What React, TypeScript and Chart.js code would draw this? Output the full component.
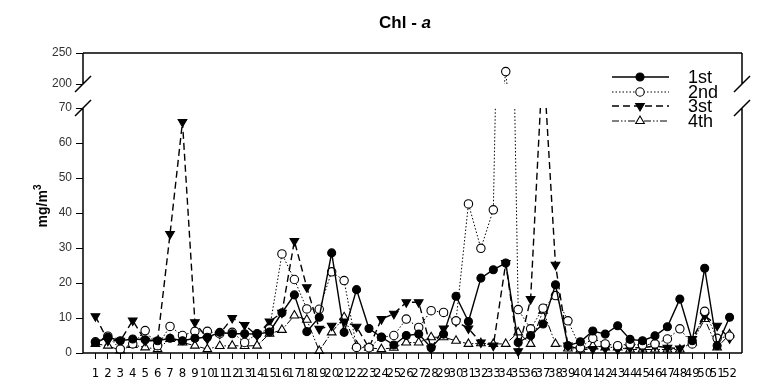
import React, { useEffect, useRef } from 'react';
import { Chart, registerables } from 'chart.js';

Chart.register(...registerables);

const categories = ['1','2','3','4','5','6','7','8','9','10','11','12','13','14','15','16','17','18','19','20','21','22','23','24','25','26','27','28','29','30','31','32','33','34','35','36','37','38','39','40','41','42','43','44','45','46','47','48','49','50','51','52'];

const seriesNames = ['1st', '2nd', '3st', '4th'];

const first = [3, 4.5, 3.5, 4, 3.8, 3.5, 4.2, 3.5, 4.2, 4.5, 5.9, 5.5, 5.5, 5.4, 6, 11.5, 16.6, 6.1, 10.2, 28.6, 5.9, 18.1, 7, 4.5, 2.3, 5, 5.4, 1.5, 5.4, 16.2, 9, 21.4, 23.8, 25.7, 3, 5, 8.3, 19.5, 2.1, 3.2, 6.3, 5.4, 7.8, 3.9, 3.5, 4.9, 7.5, 15.4, 3.5, 24.2, 2.1, 10.2];
const second = [3.2, 4.8, 1.1, 2.6, 6.4, 2.1, 7.6, 5, 6.2, 6.2, 5.5, 5.9, 3, 5.5, 6.9, 28.3, 21, 12.6, 12.5, 23.2, 20.7, 1.6, 1.5, 4.5, 5, 9.7, 7.3, 12.1, 11.6, 9.2, 42.6, 29.9, 40.9, 220, 12.4, 6.9, 12.8, 16.4, 9.2, 1.5, 4.2, 2.6, 2.1, 2.6, 2.3, 2.6, 4, 6.9, 2.6, 11.9, 4.2, 4.8];
const third = [10.5, 3.5, 3.5, 9.3, 3.5, 3.5, 34, 66, 8.8, 4, 5.5, 10, 8, 5, 9, 11.5, 32, 18.8, 6.9, 7.8, 9, 7.5, 1.5, 9.7, 11.2, 14.5, 14.5, 1.3, 7, 9, 7, 3, 2.1, 25.7, 0.5, 15.4, 85, 25.2, 2.1, 1, 1.1, 1.3, 1, 1.5, 1.5, 2, 1.5, 1.3, 4, 10.7, 7.8, 4.2];
const fourth = [2.6, 2.1, 0.7, 2.3, 1.6, 1.1, 4, 3, 2.1, 1.1, 2, 2.1, 2, 2.1, 5.5, 6.6, 10.7, 9.5, 0.6, 5.9, 10.2, 2.1, 1.5, 1.1, 1.5, 3, 3, 4.5, 4.5, 3.5, 2.6, 2.8, 2.6, 2.6, 5.9, 2.6, 12.1, 2.6, 1.3, 1, 2.1, 1.6, 1.6, 1, 1, 1, 1, 1, 3, 9.7, 1.6, 5.3];

const lowerTicks = [0, 10, 20, 30, 40, 50, 60, 70];
const upperTicks = [200, 250];
const lowerMax = 70;
const upperMin = 200;

type Style = {
  dash: number[];
  width: number;
  point: 'circle' | 'triangle';
  rotation: number;
  fill: string;
  radius: number;
};

const styles: Style[] = [
  { dash: [], width: 1.4, point: 'circle', rotation: 0, fill: '#000', radius: 4 },
  { dash: [1.5, 2], width: 1, point: 'circle', rotation: 0, fill: '#fff', radius: 4.2 },
  { dash: [7, 4], width: 1.4, point: 'triangle', rotation: 180, fill: '#000', radius: 5 },
  { dash: [7, 2, 1.5, 2, 1.5, 2], width: 1, point: 'triangle', rotation: 0, fill: '#fff', radius: 5 },
];

const allSeries = [first, second, third, fourth];

function buildDatasets() {
  const out: any[] = [];
  allSeries.forEach((vals, k) => {
    const st = styles[k];
    const pts = categories.map((c, i) => ({ x: i + 1, y: vals[i] }));
    ['yLow', 'yTop'].forEach((axis) => {
      out.push({
        label: seriesNames[k],
        part: axis,
        data: pts,
        yAxisID: axis,
        xAxisID: 'x',
        borderColor: '#000',
        borderWidth: st.width,
        borderDash: st.dash,
        backgroundColor: st.fill,
        pointStyle: st.point,
        pointRotation: st.rotation,
        pointRadius: st.radius,
        pointBorderWidth: 1.1,
        pointBorderColor: '#000',
        pointBackgroundColor: st.fill,
        tension: 0,
        fill: false,
        clip: false,
      });
    });
  });
  return out;
}

const clipPlugin = {
  id: 'segClip',
  beforeDatasetDraw(chart: any, args: any) {
    const ds = chart.data.datasets[args.index];
    const ctx = chart.ctx;
    let top: number;
    let bottom: number;
    if (ds.part === 'yTop') {
      top = 0;
      bottom = chart.scales.yTop.getPixelForValue(upperMin);
    } else {
      top = chart.scales.yLow.getPixelForValue(lowerMax);
      bottom = chart.height;
    }
    ctx.save();
    ctx.beginPath();
    ctx.rect(0, top, chart.width, bottom - top);
    ctx.clip();
  },
  afterDatasetDraw(chart: any) {
    chart.ctx.restore();
  },
};

function drawMarker(ctx: CanvasRenderingContext2D, st: Style, x: number, y: number) {
  ctx.save();
  ctx.setLineDash([]);
  ctx.lineWidth = 1.1;
  ctx.strokeStyle = '#000';
  ctx.fillStyle = st.fill;
  ctx.beginPath();
  if (st.point === 'circle') {
    ctx.arc(x, y, st.radius, 0, Math.PI * 2);
  } else {
    const r = st.radius;
    const s = st.rotation === 180 ? -1 : 1;
    ctx.moveTo(x, y - s * r);
    ctx.lineTo(x + r * 0.866, y + s * r * 0.5);
    ctx.lineTo(x - r * 0.866, y + s * r * 0.5);
    ctx.closePath();
  }
  ctx.fill();
  ctx.stroke();
  ctx.restore();
}

const decorPlugin = {
  id: 'decor',
  afterDraw(chart: any) {
    const ctx: CanvasRenderingContext2D = chart.ctx;
    const { left, right, top, bottom } = chart.chartArea;
    const p200 = chart.scales.yTop.getPixelForValue(upperMin);
    const p70 = chart.scales.yLow.getPixelForValue(lowerMax);
    ctx.save();
    ctx.strokeStyle = '#000';
    ctx.lineWidth = 1.5;
    ctx.setLineDash([]);
    ctx.beginPath();
    ctx.moveTo(left, top);
    ctx.lineTo(right, top);
    ctx.moveTo(left, bottom);
    ctx.lineTo(right, bottom);
    [left, right].forEach((x) => {
      ctx.moveTo(x, top);
      ctx.lineTo(x, p200);
      ctx.moveTo(x, p70);
      ctx.lineTo(x, bottom);
      ctx.moveTo(x - 8, p200 + 8);
      ctx.lineTo(x + 8, p200 - 8);
      ctx.moveTo(x - 8, p70 + 8);
      ctx.lineTo(x + 8, p70 - 8);
    });
    ctx.stroke();

    // title
    ctx.fillStyle = '#000';
    ctx.textBaseline = 'middle';
    const tFont = 'bold 17px "Liberation Sans", Arial, sans-serif';
    const iFont = 'italic bold 17px "Liberation Sans", Arial, sans-serif';
    ctx.font = tFont;
    const part1 = 'Chl - ';
    const w1 = ctx.measureText(part1).width;
    ctx.font = iFont;
    const w2 = ctx.measureText('a').width;
    const tx = 405 - (w1 + w2) / 2;
    ctx.font = tFont;
    ctx.textAlign = 'left';
    ctx.fillText(part1, tx, 23);
    ctx.font = iFont;
    ctx.fillText('a', tx + w1, 23);

    // y title
    ctx.save();
    ctx.translate(43, 206);
    ctx.rotate(-Math.PI / 2);
    ctx.font = 'bold 14px "Liberation Sans", Arial, sans-serif';
    const base = 'mg/m';
    const wb = ctx.measureText(base).width;
    ctx.font = 'bold 10px "Liberation Sans", Arial, sans-serif';
    const ws = ctx.measureText('3').width;
    const sx = -(wb + ws) / 2;
    ctx.font = 'bold 14px "Liberation Sans", Arial, sans-serif';
    ctx.fillText(base, sx, 0);
    ctx.font = 'bold 10px "Liberation Sans", Arial, sans-serif';
    ctx.fillText('3', sx + wb, -5);
    ctx.restore();

    // legend
    const ly = [77, 92, 106, 121];
    ctx.font = '18px "Liberation Sans", Arial, sans-serif';
    seriesNames.forEach((name, k) => {
      const st = styles[k];
      const y = ly[k];
      ctx.save();
      ctx.strokeStyle = '#000';
      ctx.lineWidth = st.width;
      ctx.setLineDash(st.dash);
      ctx.beginPath();
      ctx.moveTo(612, y);
      ctx.lineTo(669, y);
      ctx.stroke();
      ctx.restore();
      drawMarker(ctx, st, 640, y);
      ctx.fillStyle = '#000';
      ctx.textAlign = 'left';
      ctx.textBaseline = 'middle';
      ctx.fillText(name, 688, y + 1);
    });
    ctx.restore();
  },
};

const yTickFont = { family: '"Liberation Sans", Arial, sans-serif', size: 12 };

export default function App() {
  const ref = useRef<HTMLCanvasElement>(null);
  useEffect(() => {
    if (!ref.current) return;
    const chart = new Chart(ref.current, {
      type: 'line',
      data: { datasets: buildDatasets() },
      plugins: [clipPlugin, decorPlugin],
      options: {
        animation: false,
        responsive: false,
        devicePixelRatio: 1,
        layout: { padding: { top: 53, right: 28, left: 0, bottom: 0 } },
        plugins: {
          legend: { display: false },
          title: { display: false },
          tooltip: { enabled: false },
        },
        scales: {
          x: {
            type: 'linear',
            min: 0,
            max: 53,
            position: 'bottom',
            afterBuildTicks: (s: any) => {
              s.ticks = categories.map((c, i) => ({ value: i + 1 }));
            },
            afterFit: (s: any) => {
              s.height = 39;
            },
            ticks: {
              autoSkip: false,
              maxRotation: 0,
              minRotation: 0,
              padding: 7,
              color: '#000',
              font: { family: '"Liberation Sans Narrow", "DejaVu Sans Condensed", sans-serif', size: 13 },
              callback: (v: any) => categories[Math.round(Number(v)) - 1] ?? '',
            },
            grid: { drawOnChartArea: false, drawTicks: true, tickLength: 6, color: '#000', lineWidth: 1 },
            border: { display: false },
          },
          yLow: {
            type: 'linear',
            min: 0,
            max: lowerMax,
            position: 'left',
            stack: 'yst',
            stackWeight: 245,
            weight: 1,
            afterBuildTicks: (s: any) => {
              s.ticks = lowerTicks.map((v) => ({ value: v }));
            },
            afterFit: (s: any) => {
              s.width = 83;
            },
            ticks: { color: '#333', font: yTickFont, padding: 4 },
            grid: { drawOnChartArea: false, drawTicks: true, tickLength: 7, color: '#000', lineWidth: 1 },
            border: { display: false },
          },
          yTop: {
            type: 'linear',
            min: 161.3,
            max: 250,
            position: 'left',
            stack: 'yst',
            stackWeight: 55,
            weight: 2,
            afterBuildTicks: (s: any) => {
              s.ticks = upperTicks.map((v) => ({ value: v }));
            },
            afterFit: (s: any) => {
              s.width = 83;
            },
            ticks: { color: '#333', font: yTickFont, padding: 4 },
            grid: { drawOnChartArea: false, drawTicks: true, tickLength: 7, color: '#000', lineWidth: 1 },
            border: { display: false },
          },
        },
      } as any,
    });
    return () => chart.destroy();
  }, []);
  return (
    <div style={{ position: 'fixed', left: 0, top: 0, width: 770, height: 392, background: '#fff' }}>
      <canvas ref={ref} width={770} height={392} style={{ display: 'block', width: 770, height: 392 }} />
    </div>
  );
}
